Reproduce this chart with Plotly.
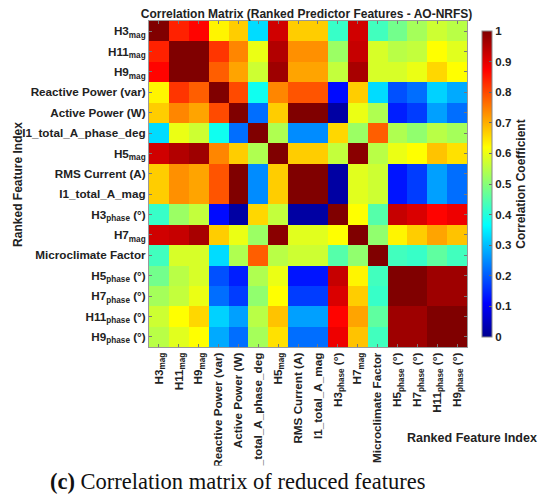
import plotly.graph_objects as go

features = [
    "H3<sub>mag</sub>", "H11<sub>mag</sub>", "H9<sub>mag</sub>",
    "Reactive Power (var)", "Active Power (W)", "I1_total_A_phase_deg",
    "H5<sub>mag</sub>", "RMS Current (A)", "I1_total_A_mag",
    "H3<sub>phase</sub> (°)", "H7<sub>mag</sub>", "Microclimate Factor",
    "H5<sub>phase</sub> (°)", "H7<sub>phase</sub> (°)",
    "H11<sub>phase</sub> (°)", "H9<sub>phase</sub> (°)",
]

# correlation values (rows follow the feature order)
corr = [
    [1.00, 0.84, 0.87, 0.63, 0.67, 0.33, 0.92, 0.67, 0.67, 0.42, 0.92, 0.43, 0.48, 0.53, 0.57, 0.55],
    [0.84, 1.00, 1.00, 0.82, 0.74, 0.60, 0.95, 0.73, 0.73, 0.52, 0.93, 0.58, 0.55, 0.56, 0.62, 0.59],
    [0.87, 1.00, 1.00, 0.78, 0.71, 0.57, 0.97, 0.71, 0.71, 0.56, 0.96, 0.58, 0.58, 0.60, 0.66, 0.62],
    [0.63, 0.82, 0.78, 1.00, 0.80, 0.38, 0.74, 0.79, 0.79, 0.12, 0.67, 0.33, 0.19, 0.22, 0.32, 0.28],
    [0.67, 0.74, 0.71, 0.80, 1.00, 0.22, 0.67, 1.00, 1.00, 0.02, 0.60, 0.54, 0.14, 0.17, 0.27, 0.22],
    [0.33, 0.60, 0.57, 0.38, 0.22, 1.00, 0.54, 0.25, 0.25, 0.66, 0.52, 0.78, 0.54, 0.51, 0.55, 0.53],
    [0.92, 0.95, 0.97, 0.74, 0.67, 0.54, 1.00, 0.67, 0.67, 0.56, 0.99, 0.55, 0.60, 0.62, 0.68, 0.65],
    [0.67, 0.73, 0.71, 0.79, 1.00, 0.25, 0.67, 1.00, 1.00, 0.02, 0.59, 0.57, 0.13, 0.17, 0.27, 0.22],
    [0.67, 0.73, 0.71, 0.79, 1.00, 0.25, 0.67, 1.00, 1.00, 0.02, 0.59, 0.57, 0.13, 0.17, 0.27, 0.22],
    [0.42, 0.52, 0.56, 0.12, 0.02, 0.66, 0.56, 0.02, 0.02, 1.00, 0.62, 0.45, 0.93, 0.91, 0.87, 0.89],
    [0.92, 0.93, 0.96, 0.67, 0.60, 0.52, 0.99, 0.59, 0.59, 0.62, 1.00, 0.51, 0.63, 0.67, 0.71, 0.68],
    [0.43, 0.58, 0.58, 0.33, 0.54, 0.78, 0.55, 0.57, 0.57, 0.45, 0.51, 1.00, 0.43, 0.42, 0.46, 0.43],
    [0.48, 0.55, 0.58, 0.19, 0.14, 0.54, 0.60, 0.13, 0.13, 0.93, 0.63, 0.43, 1.00, 1.00, 0.97, 0.97],
    [0.53, 0.56, 0.60, 0.22, 0.17, 0.51, 0.62, 0.17, 0.17, 0.91, 0.67, 0.42, 1.00, 1.00, 0.97, 0.97],
    [0.57, 0.62, 0.66, 0.32, 0.27, 0.55, 0.68, 0.27, 0.27, 0.87, 0.71, 0.46, 0.97, 0.97, 1.00, 1.00],
    [0.55, 0.59, 0.62, 0.28, 0.22, 0.53, 0.65, 0.22, 0.22, 0.89, 0.68, 0.43, 0.97, 0.97, 1.00, 1.00],
]

cbar_ticks = [0, 0.1, 0.2, 0.3, 0.4, 0.5, 0.6, 0.7, 0.8, 0.9, 1]

# matlab-style jet
jet = [
    [0.0, "rgb(0,0,143)"],
    [0.11, "rgb(0,0,255)"],
    [0.365, "rgb(0,255,255)"],
    [0.62, "rgb(255,255,0)"],
    [0.873, "rgb(255,0,0)"],
    [1.0, "rgb(128,0,0)"],
]

# the page body adds an 8px margin, so the figure is drawn 8px smaller
OFF = 8
W, H = 550 - OFF, 495 - OFF
L, T = 149 - OFF, 21 - OFF
R, B = W - (474 - OFF), H - (347 - OFF)
pw, ph = W - L - R, H - T - B


def px(x):
    # screen x (as in the reference) -> paper x
    return (x - OFF - L) / pw


def py(y):
    # screen y -> paper y
    return (H - B - (y - OFF)) / ph


idx = list(range(len(features)))
font = "Liberation Sans, Arial, sans-serif"
serif = "Liberation Serif, DejaVu Serif, serif"

fig = go.Figure(
    go.Heatmap(
        z=corr,
        x=idx,
        y=idx,
        zmin=0,
        zmax=1,
        colorscale=jet,
        colorbar=dict(
            x=px(479),
            xanchor="left",
            y=0.5,
            len=1,
            thickness=10,
            outlinecolor="#888",
            outlinewidth=1,
            tickvals=cbar_ticks,
            ticks="inside",
            ticklen=3,
            tickcolor="#666",
            tickfont=dict(family=font, size=11.5, color="#222", weight="bold"),
            title=dict(
                text="Correlation Coefficient",
                side="right",
                font=dict(family=font, size=12, color="#222", weight="bold"),
            ),
        ),
    )
)

axis_common = dict(
    tickvals=idx,
    ticktext=features,
    automargin=False,
    showline=True,
    linecolor="#999",
    linewidth=1,
    mirror="ticks",
    ticks="inside",
    ticklen=3,
    tickcolor="#777",
    showgrid=False,
    zeroline=False,
    tickfont=dict(family=font, size=11.7, color="#222", weight="bold"),
)

fig.update_xaxes(axis_common, tickangle=-90, range=[-0.5, 15.5])
fig.update_yaxes(axis_common, range=[15.5, -0.5])

fig.add_annotation(
    text="Ranked Feature Index",
    xref="paper", yref="paper",
    x=px(15), y=py(184),
    xanchor="center", yanchor="middle",
    textangle=-90,
    showarrow=False,
    font=dict(family=font, size=12, color="#222", weight="bold"),
)
fig.add_annotation(
    text="Ranked Feature Index",
    xref="paper", yref="paper",
    x=px(479), y=py(438),
    xanchor="center", yanchor="middle",
    showarrow=False,
    font=dict(family=font, size=12.5, color="#222", weight="bold"),
)

# white band for the caption; it hides the end of the long rotated label
fig.add_annotation(
    text=" ",
    xref="paper", yref="paper",
    x=px(0), y=py(465),
    xanchor="left", yanchor="top",
    showarrow=False,
    width=W + 4, height=32,
    borderpad=0,
    bgcolor="white",
)
fig.add_annotation(
    text="<b>(c)</b> Correlation matrix of reduced features",
    xref="paper", yref="paper",
    x=px(46), y=py(481),
    xanchor="left", yanchor="middle",
    showarrow=False,
    font=dict(family=serif, size=22.5, color="#111"),
)

fig.update_layout(
    width=W,
    height=H,
    margin=dict(l=L, r=R, t=T, b=B),
    paper_bgcolor="white",
    plot_bgcolor="white",
    title=dict(
        text="Correlation Matrix (Ranked Predictor Features - AO-NRFS)",
        x=px(310), xref="paper", xanchor="center",
        y=1 - 6 / H, yref="container", yanchor="middle",
        font=dict(family=font, size=12, color="#222", weight="bold"),
    ),
)

fig.write_html("out.html")
